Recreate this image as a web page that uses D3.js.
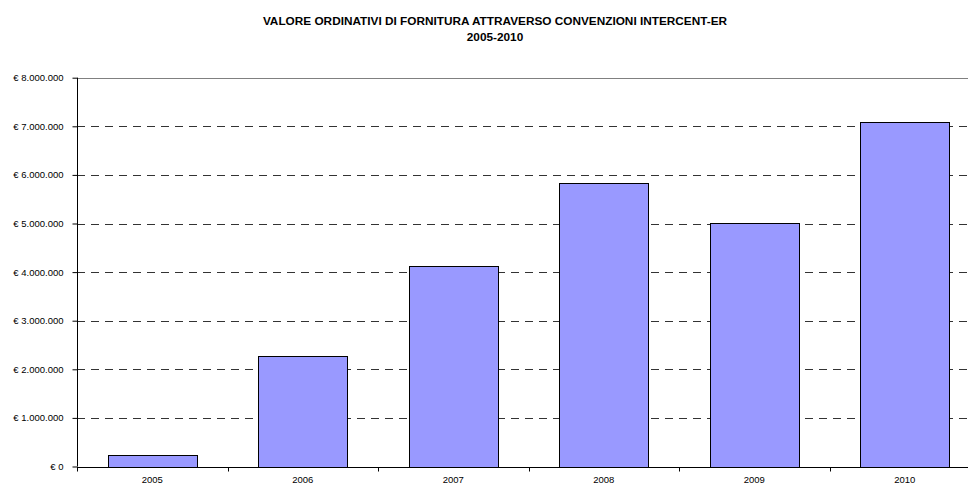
<!DOCTYPE html>
<html>
<head>
<meta charset="utf-8">
<script src="https://cdn.jsdelivr.net/npm/d3@7"></script>
<style>
  body { margin: 0; background: #fff; }
  svg { display: block; font-family: "Liberation Sans", Arial, sans-serif; }
</style>
</head>
<body>
<div id="graph"></div>
<script>
'use strict';

const years = ['2005', '2006', '2007', '2008', '2009', '2010'];
const values = [245000, 2280000, 4130000, 5840000, 5020000, 7090000];
const yTicks = [0, 1000000, 2000000, 3000000, 4000000, 5000000, 6000000, 7000000, 8000000];
const titleLines = ['VALORE ORDINATIVI DI FORNITURA ATTRAVERSO CONVENZIONI INTERCENT-ER', '2005-2010'];

const W = 968, H = 486;
const plot = { left: 77, right: 980, top: 77.7, bottom: 466.5 };

let svg = d3.select('#graph')
  .append('svg')
  .attr('width', W)
  .attr('height', H);

// title
svg.selectAll('.title')
  .data(titleLines)
  .enter()
  .append('text')
  .attr('x', 495)
  .attr('y', (d, i) => 25 + i * 16)
  .attr('text-anchor', 'middle')
  .style('font-size', '11.8px')
  .style('font-weight', 'bold')
  .text(d => d);

let x = d3.scaleBand()
  .domain(years)
  .range([plot.left, plot.right])
  .paddingInner(0.41)
  .paddingOuter(0.205);

let y = d3.scaleLinear()
  .domain([0, 8000000])
  .range([plot.bottom, plot.top]);

let fmt = d => '\u20AC ' + d3.format(',')(d).replace(/,/g, '.');

// gridlines
svg.append('g')
  .selectAll('line')
  .data(yTicks.filter(t => t > 0 && t < 8000000))
  .enter()
  .append('line')
  .attr('x1', plot.left)
  .attr('x2', plot.right)
  .attr('y1', d => Math.round(y(d)) + 0.5)
  .attr('y2', d => Math.round(y(d)) + 0.5)
  .attr('stroke', '#333')
  .attr('stroke-dasharray', '8,6');

// top border of plot area
svg.append('line')
  .attr('x1', plot.left)
  .attr('x2', plot.right)
  .attr('y1', Math.round(y(8000000)) + 0.5)
  .attr('y2', Math.round(y(8000000)) + 0.5)
  .attr('stroke', '#808080');

// bars
svg.selectAll('.bar')
  .data(years)
  .enter()
  .append('rect')
  .attr('class', 'bar')
  .attr('x', d => Math.round(x(d)) + 0.5)
  .attr('y', (d, i) => Math.round(y(values[i])) + 0.5)
  .attr('width', Math.round(x.bandwidth()))
  .attr('height', (d, i) => Math.round(y(0)) - Math.round(y(values[i])))
  .attr('fill', '#9999FF')
  .attr('stroke', '#000')
  .attr('stroke-width', 1);

// y axis
let yAxis = d3.axisLeft(y)
  .tickValues(yTicks)
  .tickSize(5)
  .tickPadding(9)
  .tickFormat(fmt);

let yg = svg.append('g')
  .attr('transform', `translate(${plot.left + 0.5}, 0)`)
  .call(yAxis);
yg.select('.domain').remove();
yg.append('line')
  .attr('y1', plot.top)
  .attr('y2', plot.bottom)
  .attr('stroke', '#000');
yg.selectAll('.tick line').attr('stroke', '#000');
yg.selectAll('text')
  .style('font-size', '9.5px')
  .attr('fill', '#000');

// x axis
let step = x.step();
let xg = svg.append('g')
  .attr('transform', `translate(0, ${Math.round(plot.bottom) + 0.5})`);
xg.append('line')
  .attr('x1', plot.left)
  .attr('x2', plot.right)
  .attr('stroke', '#000');
xg.selectAll('.xtick')
  .data(years)
  .enter()
  .append('line')
  .attr('x1', d => Math.round(x(d) - step * 0.205) + 0.5)
  .attr('x2', d => Math.round(x(d) - step * 0.205) + 0.5)
  .attr('y1', 0)
  .attr('y2', 4)
  .attr('stroke', '#000');
xg.selectAll('.xlabel')
  .data(years)
  .enter()
  .append('text')
  .attr('x', d => x(d) + x.bandwidth() / 2)
  .attr('y', 15)
  .attr('text-anchor', 'middle')
  .style('font-size', '9.5px')
  .text(d => d);
</script>
</body>
</html>
